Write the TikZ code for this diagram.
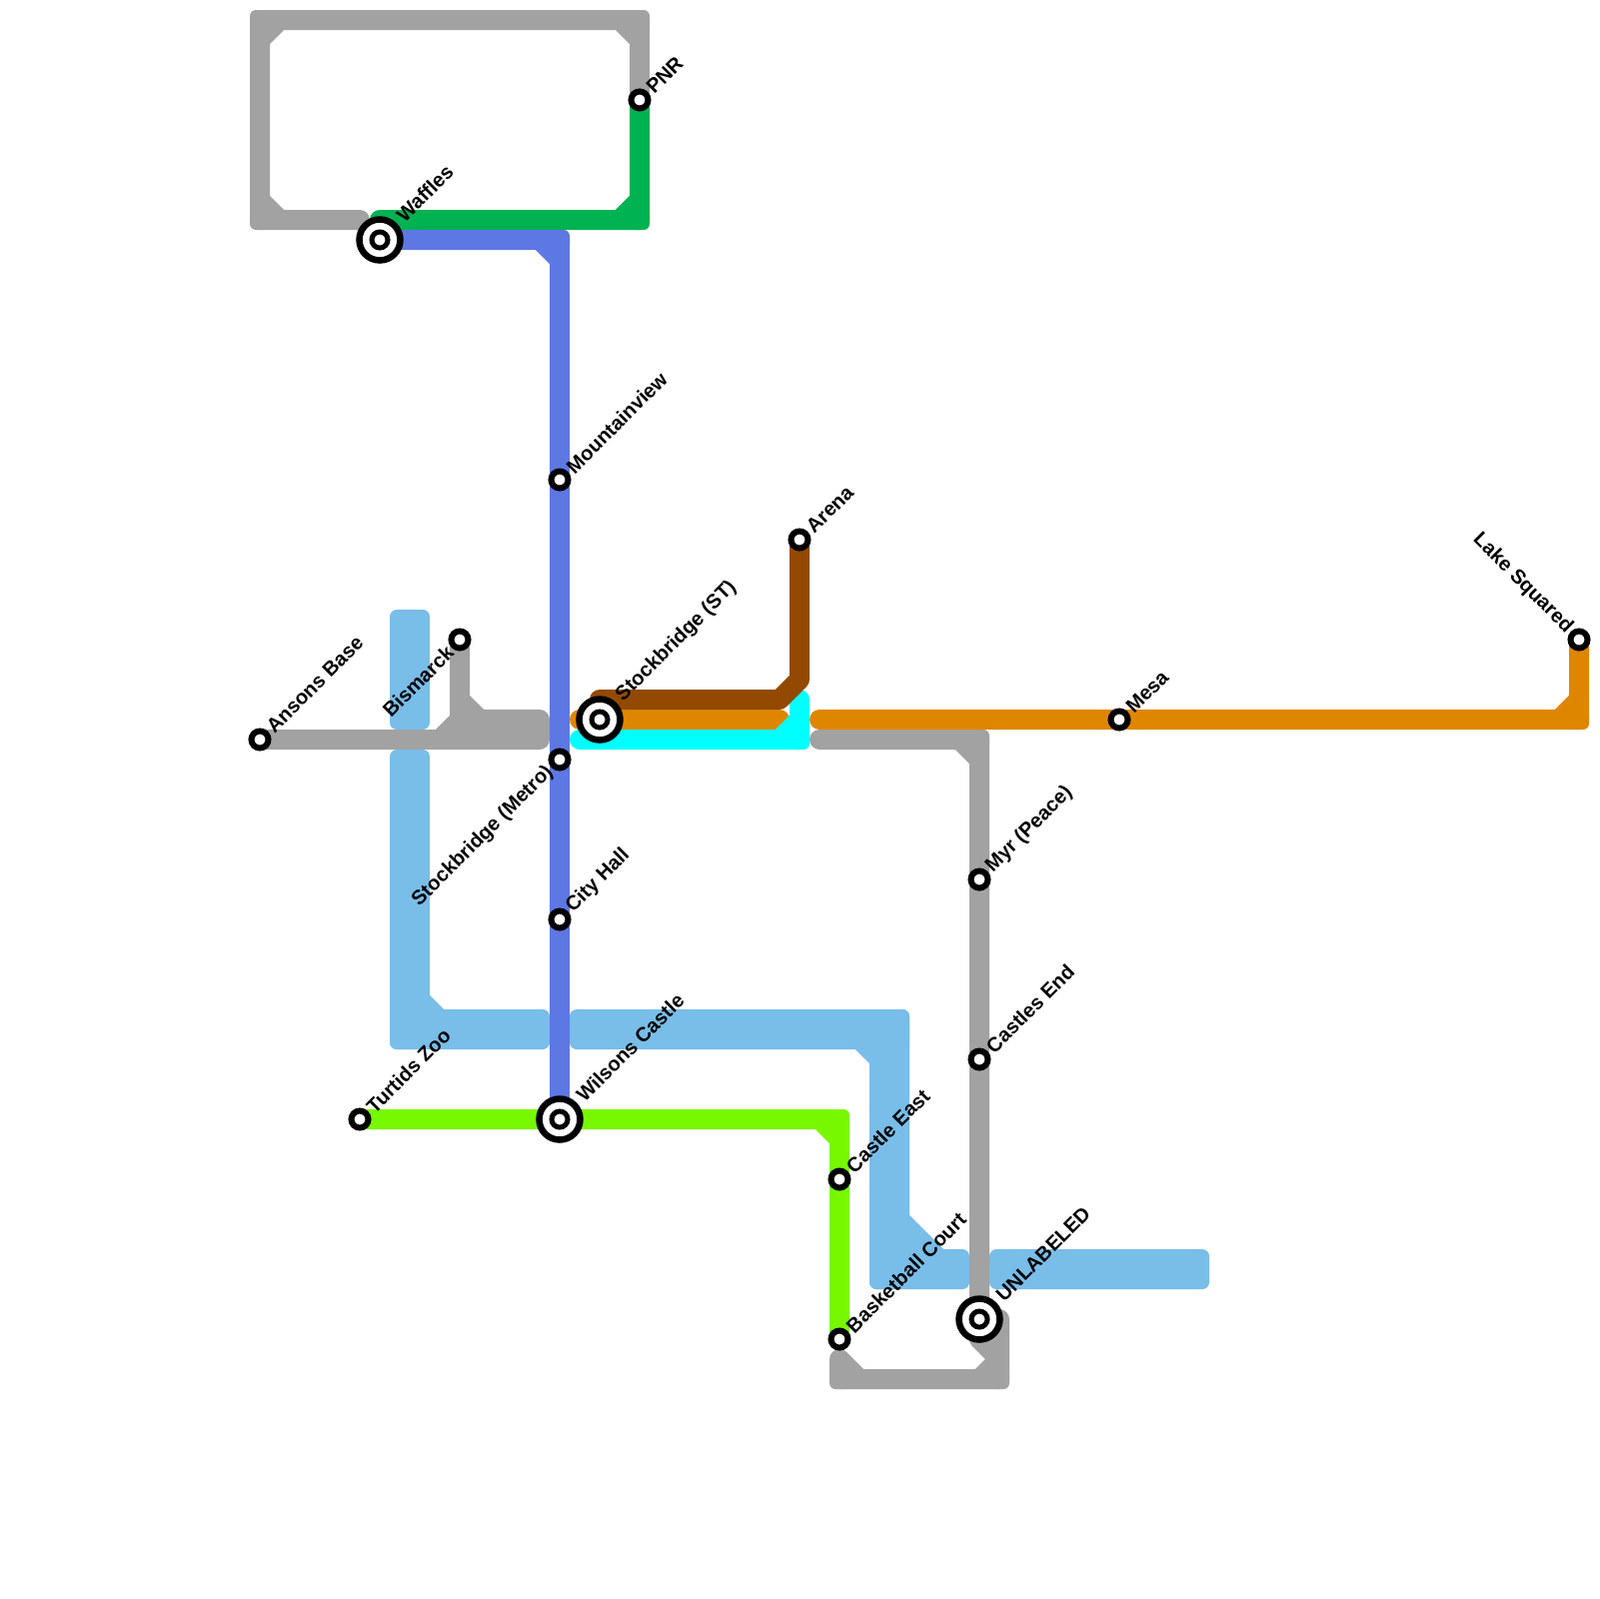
\documentclass[tikz,border=0pt]{standalone}
\usepackage{fontspec}
\setmainfont{Liberation Sans}
\definecolor{cGray}{HTML}{A2A2A2}
\definecolor{cGreen}{HTML}{00B251}
\definecolor{cBlue}{HTML}{5E78E3}
\definecolor{cSky}{HTML}{79BDE9}
\definecolor{cCyan}{HTML}{00FFFF}
\definecolor{cBrown}{HTML}{934A00}
\definecolor{cOrange}{HTML}{DF8600}
\definecolor{cLime}{HTML}{78F800}
\newcommand{\bend}[2]{\fill[#1, rounded corners=0.6mm] (#2) ++(-10,-10) rectangle ++(20,20);}
\tikzset{
  metro/.style={line width=2mm, line cap=round, line join=round},
  band/.style={fill=cSky, rounded corners=0.7mm},
  stn/.style={
    circle, draw=black, fill=white, line width=0.6mm,
    minimum size=1.7mm, inner sep=0pt, outer sep=0pt,
  },
  hub/.style={
    circle, draw=black, fill=white, line width=0.65mm,
    minimum size=4.1mm, inner sep=0pt, outer sep=0pt,
    path picture={\draw[black, line width=0.5mm] (path picture bounding box.center) circle (0.8mm);},
  },
  lbl/.style={font=\fontsize{5.72}{6}\selectfont\bfseries, inner sep=0pt, text=black},
  lblr/.style={lbl, rotate=45, anchor=west, xshift=1.35mm},
  lblhub/.style={lbl, rotate=45, anchor=west, xshift=2.85mm, yshift=0.1mm},
  lbll/.style={lbl, rotate=45, anchor=east, xshift=-1.3mm},
}
\begin{document}
\begin{tikzpicture}[x=0.1mm, y=-0.1mm]
\useasboundingbox (0,0) rectangle (1600,1600);

% stations
\coordinate (ansons) at (260,740);
\coordinate (bismarck) at (460,640);
\coordinate (waffles) at (380,240);
\coordinate (pnr) at (640,100);
\coordinate (mountain) at (560,480);
\coordinate (stockst) at (600,720);
\coordinate (stockmetro) at (560,760);
\coordinate (cityhall) at (560,920);
\coordinate (wilsons) at (560,1120);
\coordinate (turtids) at (360,1120);
\coordinate (arena) at (800,540);
\coordinate (castleeast) at (840,1180);
\coordinate (basket) at (840,1340);
\coordinate (myr) at (980,880);
\coordinate (castlesend) at (980,1060);
\coordinate (unlabeled) at (980,1320);
\coordinate (mesa) at (1120,720);
\coordinate (lake) at (1580,640);

% sky blue bands
\fill[band] (390,610) rectangle (430,730);
\fill[band] (390,750) rectangle (430,1050);
\fill[band] (390,1010) rectangle (550,1050);
\fill[band] (570,1010) rectangle (910,1050);
\fill[band] (870,1010) rectangle (910,1290);
\fill[band] (870,1250) rectangle (970,1290);
\fill[band] (990,1250) rectangle (1210,1290);
\draw[metro, cSky] (420,1000) -- (440,1020);
\draw[metro, cSky] (860,1040) -- (880,1060);
\draw[metro, cSky] (900,1220) -- (940,1260);
\draw[metro, cSky] (900,1240) -- (920,1260);

% gray loop
\coordinate (g1) at (360,220);
\coordinate (g2) at (260,220);
\coordinate (g3) at (260,20);
\coordinate (g4) at (640,20);
\draw[metro, cGray, line join=bevel] (g1) -- (g2) -- (g3) -- (g4) -- (pnr)
  (g2) ++(0,-20) -- ++(20,20)
  (g3) ++(0,20) -- ++(20,-20)
  (g4) ++(-20,0) -- ++(20,20);
\bend{cGray}{g2} \bend{cGray}{g3} \bend{cGray}{g4}

% gray branch
\coordinate (b1) at (540,740);
\coordinate (b2) at (540,720);
\coordinate (b3) at (460,720);
\draw[metro, cGray] (ansons) -- (b1) -- (b2) -- (b3) -- (bismarck)
  (b3) ++(-20,20) -- ++(20,-20)
  (b3) ++(0,-20) -- ++(20,20);

% gray east
\coordinate (e1) at (820,740);
\coordinate (e2) at (980,740);
\coordinate (e3) at (980,1340);
\coordinate (e4) at (1000,1360);
\coordinate (e5) at (1000,1320);
\coordinate (e6) at (1000,1380);
\coordinate (e7) at (840,1380);
\coordinate (e8) at (840,1360);
\draw[metro, cGray, line join=bevel] (e1) -- (e2) -- (myr) -- (castlesend) -- (unlabeled) -- (e3)
  (e3) -- (e4)
  (e2) ++(-20,0) -- ++(20,20);
\draw[metro, cGray, line join=bevel] (e5) -- (e6) -- (e7) -- (e8)
  (e8) -- ++(20,20)
  (e6) ++(-20,0) -- ++(20,-20);
\bend{cGray}{e2} \bend{cGray}{e6} \bend{cGray}{e7}

% green
\coordinate (gr1) at (380,220);
\coordinate (gr2) at (640,220);
\draw[metro, cGreen, line join=bevel] (gr1) -- (gr2) -- (pnr)
  (gr2) ++(-20,0) -- ++(20,-20);
\bend{cGreen}{gr2}

% metro blue
\coordinate (bl1) at (560,240);
\draw[metro, cBlue, line join=bevel] (waffles) -- (bl1) -- (mountain) -- (stockmetro) -- (cityhall) -- (wilsons)
  (bl1) ++(-20,0) -- ++(20,20);
\bend{cBlue}{bl1}

% orange
\coordinate (o1) at (580,720);
\coordinate (o2) at (780,720);
\coordinate (o3) at (820,720);
\coordinate (o4) at (1580,720);
\draw[metro, cOrange] (o1) -- (stockst) -- (o2);
\draw[metro, cOrange, line join=bevel] (o3) -- (mesa) -- (o4) -- (lake)
  (o4) ++(-20,0) -- ++(20,-20);
\bend{cOrange}{o4}

% cyan
\coordinate (c1) at (580,740);
\coordinate (c2) at (800,740);
\coordinate (c3) at (800,700);
\draw[metro, cCyan, line join=bevel] (c1) -- (c2) -- (c3)
  (c2) ++(-20,0) -- ++(20,-20);
\bend{cCyan}{c2}

% brown
\coordinate (br1) at (600,700);
\coordinate (br2) at (780,700);
\coordinate (br3) at (800,680);
\draw[metro, cBrown] (br1) -- (br2) -- (br3) -- (arena);

% lime
\coordinate (l1) at (840,1120);
\draw[metro, cLime, line join=bevel] (turtids) -- (wilsons) -- (l1) -- (castleeast) -- (basket)
  (l1) ++(-20,0) -- ++(20,20);
\bend{cLime}{l1}

% station marks
\node[stn] (nansons) at (ansons) {};
\node[stn] (nbismarck) at (bismarck) {};
\node[hub] (nwaffles) at (waffles) {};
\node[stn] (npnr) at (pnr) {};
\node[stn] (nmountain) at (mountain) {};
\node[hub] (nstockst) at (stockst) {};
\node[stn] (nstockmetro) at (stockmetro) {};
\node[stn] (ncityhall) at (cityhall) {};
\node[hub] (nwilsons) at (wilsons) {};
\node[stn] (nturtids) at (turtids) {};
\node[stn] (narena) at (arena) {};
\node[stn] (ncastleeast) at (castleeast) {};
\node[stn] (nbasket) at (basket) {};
\node[stn] (nmyr) at (myr) {};
\node[stn] (ncastlesend) at (castlesend) {};
\node[hub] (nunlabeled) at (unlabeled) {};
\node[stn] (nmesa) at (mesa) {};
\node[stn] (nlake) at (lake) {};

% labels
\node[lblr] (tansons) at (ansons) {Ansons Base};
\node[lbll] (tbismarck) at (bismarck) {Bismarck};
\node[lblhub] (twaffles) at (waffles) {Waffles};
\node[lblr] (tpnr) at (pnr) {PNR};
\node[lblr] (tmountain) at (mountain) {Mountainview};
\node[lblhub] (tstockst) at (stockst) {Stockbridge (ST)};
\node[lbll] (tstockmetro) at (stockmetro) {Stockbridge (Metro)};
\node[lblr] (tcityhall) at (cityhall) {City Hall};
\node[lblhub] (twilsons) at (wilsons) {Wilsons Castle};
\node[lblr] (tturtids) at (turtids) {Turtids Zoo};
\node[lblr] (tarena) at (arena) {Arena};
\node[lblr] (tcastleeast) at (castleeast) {Castle East};
\node[lblr] (tbasket) at (basket) {Basketball Court};
\node[lblr] (tmyr) at (myr) {Myr (Peace)};
\node[lblr] (tcastlesend) at (castlesend) {Castles End};
\node[lblhub] (tunlabeled) at (unlabeled) {UNLABELED};
\node[lblr] (tmesa) at (mesa) {Mesa};
\node[lbl, rotate=-45, anchor=east, xshift=-1.3mm] (tlake) at (lake) {Lake Squared};

\end{tikzpicture}
\end{document}
